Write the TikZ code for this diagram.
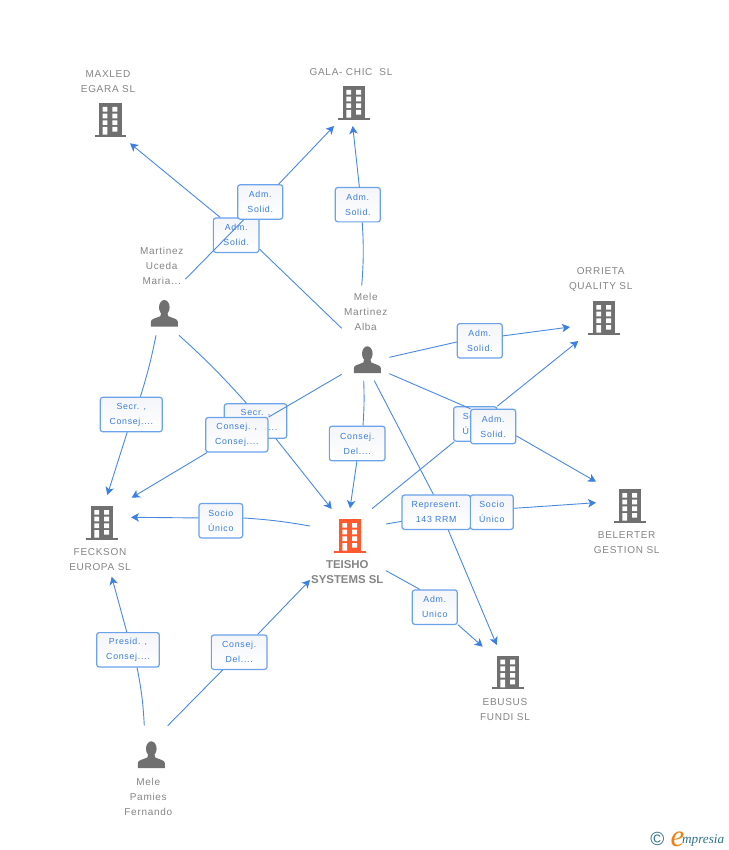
\documentclass[tikz,border=0pt]{standalone}
\usepackage{fontspec}
\setmainfont{Liberation Sans}
\newfontfamily\lblfont[LetterSpace=7]{Liberation Sans}
\newfontfamily\boxfont[LetterSpace=8]{Liberation Sans}
\newfontfamily\logofont{Liberation Serif}
\usetikzlibrary{arrows.meta,shadings}
\definecolor{linkblue}{HTML}{4A89E0}
\definecolor{tipblue}{HTML}{3B80E2}
\definecolor{boxline}{HTML}{6AA2EC}
\definecolor{boxtop}{HTML}{F4F5F8}
\definecolor{boxtext}{HTML}{3B7DDD}
\definecolor{lblgray}{HTML}{858585}
\definecolor{icongray}{HTML}{707070}
\definecolor{hotorange}{HTML}{FF5A2D}
\definecolor{logoteal}{HTML}{2F7488}
\definecolor{logoorange}{HTML}{F08010}
\tikzset{
  conn/.style={draw=linkblue,line width=0.9pt},
  arrowconn/.style={conn,-{Stealth[length=8pt,width=8.5pt,inset=2.2pt,color=tipblue,fill=tipblue]}},
  rolebox/.style={draw=boxline,line width=1.2pt,rounded corners=2.5pt,top color=boxtop,bottom color=white,
    inner sep=0pt,minimum height=34.4pt,align=center,text=boxtext,
    font=\boxfont\fontsize{8.8}{15}\selectfont},
  entlabel/.style={align=center,text=lblgray,inner sep=0pt,font=\lblfont\fontsize{10}{15}\selectfont},
  hotlabel/.style={align=center,text=lblgray,inner sep=0pt,font=\bfseries\fontsize{11.4}{15}\selectfont},
  pics/building/.style={code={
    \fill[#1] (-11.3,-33.7) rectangle (11.3,-2);
    \fill[#1] (-15.8,-2) rectangle (15.8,0);
    \fill[white] (-7.7,-29.7) rectangle (-3,-25) (2,-29.7) rectangle (7,-25)
      (-7.7,-23) rectangle (-3,-18.3) (2,-23) rectangle (7,-18.3)
      (-7.7,-16.3) rectangle (-3,-11.7) (2,-16.3) rectangle (7,-11.7)
      (-7.7,-9.7) rectangle (-3,-2) (2,-9.7) rectangle (7,-5);
  }},
  pics/person/.style={code={
    \fill[icongray] (0,-19.3) ellipse (5.3 and 7.4);
    \fill[icongray] (-13.5,0) -- (-13.5,-5) .. controls (-13.5,-8) and (-8,-8.5) .. (-4,-10.5)
      -- (-3,-14) -- (3,-14) -- (4,-10.5) .. controls (8,-8.5) and (13.5,-8) .. (13.5,-5) -- (13.5,0) -- cycle;
  }},
}
\begin{document}
\begin{tikzpicture}[x=1pt,y=-1pt]
\useasboundingbox[fill=white] (0,0) rectangle (728,850);

% icons
\pic at (110.3,136.7) {building=icongray};
\pic at (354,119.7) {building=icongray};
\pic at (604,334.7) {building=icongray};
\pic at (630,522.7) {building=icongray};
\pic at (102,539.7) {building=icongray};
\pic at (350,552.7) {building=hotorange};
\pic at (508,689.3) {building=icongray};
\pic at (164.3,326.7) {person};
\pic at (367.3,373) {person};
\pic at (151.3,768) {person};

% labels
\node[entlabel] (maxled) at (108,81.5) {MAXLED\\EGARA SL};
\node[entlabel] (gala) at (351,72) {GALA- CHIC\ \ SL};
\node[entlabel] (martinez) at (161.7,265.7) {Martinez\\Uceda\\Maria...};
\node[entlabel] (melealba) at (365.7,311.7) {Mele\\Martinez\\Alba};
\node[entlabel] (orrieta) at (600.7,279.3) {ORRIETA\\QUALITY SL};
\node[entlabel] (belerter) at (626.7,542.5) {BELERTER\\GESTION SL};
\node[entlabel] (feckson) at (100,559.5) {FECKSON\\EUROPA SL};
\node[hotlabel] (teisho) at (347.3,571.8) {TEISHO\\SYSTEMS SL};
\node[entlabel] (ebusus) at (505,709.7) {EBUSUS\\FUNDI SL};
\node[entlabel] (pamies) at (148.3,796.7) {Mele\\Pamies\\Fernando};

% connector free ends
\coordinate (a1) at (341.7,328.3);
\coordinate (a2) at (130,143.3);
\coordinate (b1) at (185.3,279.3);
\coordinate (b2) at (334,126);
\coordinate (c1) at (361.7,285.7);
\coordinate (c2) at (352.7,126);
\coordinate (d1) at (156,335.3);
\coordinate (d2) at (107.3,495);
\coordinate (e1) at (179,335.3);
\coordinate (e2) at (331.7,509);
\coordinate (f1) at (341.7,374.3);
\coordinate (f2) at (131.7,497.7);
\coordinate (g1) at (363.7,380.7);
\coordinate (g2) at (350,508.3);
\coordinate (h1) at (310,526);
\coordinate (h2) at (131,517.3);
\coordinate (i1) at (389.3,357.3);
\coordinate (i2) at (570,327);
\coordinate (j1) at (372,508.7);
\coordinate (j2) at (578.3,341);
\coordinate (k1) at (389.3,373.7);
\coordinate (k2) at (596,481.7);
\coordinate (l1) at (386,524);
\coordinate (l2) at (596,502.7);
\coordinate (m1) at (374.3,380.7);
\coordinate (m2) at (496.7,645);
\coordinate (n1) at (386,570.7);
\coordinate (n2) at (482.7,646.7);
\coordinate (o1) at (144.3,725.7);
\coordinate (o2) at (111.7,576.7);
\coordinate (p1) at (167.7,725.7);
\coordinate (p2) at (310,580);

% role boxes
\node[rolebox,minimum width=45.7pt] (B) at (236.2,235.2) {Adm.\\Solid.};
\node[rolebox,minimum width=45pt] (A) at (260.2,202) {Adm.\\Solid.};
\node[rolebox,minimum width=45pt] (C) at (357.8,204.7) {Adm.\\Solid.};
\node[rolebox,minimum width=62pt] (D) at (131.3,414.5) {Secr. ,\\Consej....};
\node[rolebox,minimum width=62.4pt] (E) at (255.5,421) {Secr. ,\\Consej....};
\node[rolebox,minimum width=62.3pt] (F) at (236.8,434.7) {Consej. ,\\Consej....};
\node[rolebox,minimum width=55.7pt] (G) at (357.2,443.5) {Consej.\\Del....};
\node[rolebox,minimum width=43.7pt] (H) at (220.8,520.7) {Socio\\Único};
\node[rolebox,minimum width=45pt] (I) at (479.8,340.8) {Adm.\\Solid.};
\node[rolebox,minimum width=43.3pt] (J) at (475.3,424) {Socio\\Único};
\node[rolebox,minimum width=45pt] (K) at (493.2,426.5) {Adm.\\Solid.};
\node[rolebox,minimum width=43pt] (M) at (491.8,512.2) {Socio\\Único};
\draw[conn] (l1) -- (M.174);
\node[rolebox,minimum width=68.3pt] (L) at (436.2,512.2) {Represent.\\143 RRM};
\node[rolebox,minimum width=45pt] (N) at (434.8,607.2) {Adm.\\Unico};
\node[rolebox,minimum width=62.6pt] (O) at (128,649.8) {Presid. ,\\Consej....};
\node[rolebox,minimum width=55.7pt] (P) at (239.2,652.2) {Consej.\\Del....};

% connectors
\draw[conn] (a1) -- (B.-31);
\draw[arrowconn] (B.132.8) -- (a2);
\draw[conn] (b1) -- (A.227.4);
\draw[arrowconn] (A.44.7) -- (b2);
\draw[conn] (c1) to[bend right=4] (C.-76.4);
\draw[arrowconn] (C.85) -- (c2);
\draw[conn] (d1) to[bend left=3] (D.63.2);
\draw[arrowconn] (D.-103) -- (d2);
\draw[conn] (e1) to[bend left=3] (E.117);
\draw[arrowconn] (E.-41.6) -- (e2);
\draw[conn] (f1) -- (F.29.1);
\draw[arrowconn] (F.-149.6) -- (f2);
\draw[conn] (g1) to[bend left=3] (G.72.3);
\draw[arrowconn] (G.-91.7) -- (g2);
\draw[conn] (h1) to[bend right=3] (H.7.6);
\draw[arrowconn] (H.173.7) -- (h2);
\draw[conn] (i1) -- (I.183);
\draw[arrowconn] (I.12) -- (i2);
\draw[conn] (j1) -- (J.-140.5);
\draw[arrowconn] (J.39) -- (j2);
\draw[conn] (k1) -- (K.142.6);
\draw[arrowconn] (K.-22.6) -- (k2);
\draw[arrowconn] (M.10.3) -- (l2);
\draw[conn] (m1) -- (L.99.6);
\draw[arrowconn] (L.-56) -- (m2);
\draw[conn] (n1) -- (N.130.7);
\draw[arrowconn] (N.-37.2) -- (n2);
\draw[conn] (o1) to[bend right=4] (O.-63.6);
\draw[arrowconn] (O.94.2) -- (o2);
\draw[conn] (p1) -- (P.-133.5);
\draw[arrowconn] (P.44.5) -- (p2);

% logo
\node[text=logoteal,inner sep=0pt,font=\fontsize{19}{19}\selectfont] (copy) at (657.3,838.6) {©};
\node[text=logoorange,inner sep=0pt,anchor=base west,font=\logofont\itshape\fontsize{31}{31}\selectfont] (logoe) at (670.5,846) {e};
\node[text=logoteal,inner sep=0pt,anchor=base west,font=\logofont\itshape\fontsize{13.2}{13}\selectfont] (logotext) at (682,843) {mpresia};
\end{tikzpicture}
\end{document}
